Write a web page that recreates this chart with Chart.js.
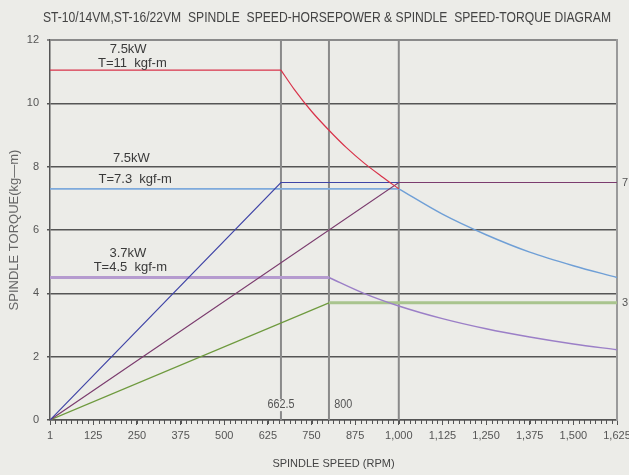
<!DOCTYPE html>
<html>
<head>
<meta charset="utf-8">
<script src="https://cdn.jsdelivr.net/npm/chart.js@4.4.0/dist/chart.umd.min.js"></script>
<style>
  html, body { margin: 0; padding: 0; background: #ecece8; }
  #wrap { width: 629px; height: 475px; position: relative; }
</style>
</head>
<body>
<div id="wrap"><canvas id="chart"></canvas></div>
<script>
(function () {
  "use strict";

  var TITLE = "ST-10/14VM,ST-16/22VM  SPINDLE  SPEED-HORSEPOWER & SPINDLE  SPEED-TORQUE DIAGRAM";

  var SPEED_TICKS = [1, 125, 250, 375, 500, 625, 750, 875, 1000, 1125, 1250, 1375, 1500, 1625];
  var TORQUE_TICKS = [0, 2, 4, 6, 8, 10, 12];
  var RIGHT_TICKS = [3.7, 7.5];
  var MARKER_SPEEDS = [662.5, 800, 1000];
  var MINOR_STEP = 15.625;

  // 7.5kW, T=11 torque curve
  var T11_FLAT_SPEED = [1, 662.5];
  var T11_FLAT_TORQUE = [11.05, 11.05];
  var T11_CURVE_SPEED = [662.5, 700, 750, 800, 850, 900, 950, 1000];
  var T11_CURVE_TORQUE = [11.05, 10.45, 9.75, 9.15, 8.6, 8.12, 7.7, 7.3];

  // 7.5kW, T=7.3 torque curve
  var T73_FLAT_SPEED = [1, 1000];
  var T73_FLAT_TORQUE = [7.3, 7.3];
  var T73_CURVE_SPEED = [1000, 1125, 1250, 1375, 1500, 1625];
  var T73_CURVE_TORQUE = [7.3, 6.5, 5.85, 5.3, 4.87, 4.5];

  // 3.7kW, T=4.5 torque curve
  var T45_FLAT_SPEED = [1, 800];
  var T45_FLAT_TORQUE = [4.5, 4.5];
  var T45_CURVE_SPEED = [800, 900, 1000, 1125, 1250, 1375, 1500, 1625];
  var T45_CURVE_TORQUE = [4.5, 4.0, 3.6, 3.2, 2.88, 2.62, 2.4, 2.22];

  // power lines
  var P75A_SPEED = [1, 662.5, 1000];
  var P75A_POWER = [0, 7.5, 7.5];
  var P75B_SPEED = [1, 1000, 1625];
  var P75B_POWER = [0, 7.5, 7.5];
  var P37_RAMP_SPEED = [1, 800];
  var P37_RAMP_POWER = [0, 3.7];
  var P37_FLAT_SPEED = [800, 1625];
  var P37_FLAT_POWER = [3.7, 3.7];

  var NOTES = [
    { text: "7.5kW", x: 225, y: 11.7 },
    { text: "T=11  kgf-m", x: 237, y: 11.27 },
    { text: "7.5kW", x: 234, y: 8.27 },
    { text: "T=7.3  kgf-m", x: 245, y: 7.61 },
    { text: "3.7kW", x: 224, y: 5.27 },
    { text: "T=4.5  kgf-m", x: 231, y: 4.83 }
  ];

  var SANS = '"Liberation Sans", Arial, sans-serif';

  function pts(xs, ys) {
    return xs.map(function (x, i) { return { x: x, y: ys[i] }; });
  }

  function line(xs, ys, color, width, curved) {
    return {
      data: pts(xs, ys),
      showLine: true,
      borderColor: color,
      borderWidth: width,
      pointRadius: 0,
      pointHoverRadius: 0,
      tension: 0,
      cubicInterpolationMode: curved ? "monotone" : "default",
      fill: false
    };
  }

  var datasets = [
    line(T11_FLAT_SPEED, T11_FLAT_TORQUE, "#d8334a", 1.2),
    line(T11_CURVE_SPEED, T11_CURVE_TORQUE, "#d8334a", 1.2, true),
    line(P75A_SPEED, P75A_POWER, "#3f44a6", 1.2),
    line(P75B_SPEED, P75B_POWER, "#7b3c6e", 1.2),
    line(T73_FLAT_SPEED, T73_FLAT_TORQUE, "#7eaadc", 1.8),
    line(T73_CURVE_SPEED, T73_CURVE_TORQUE, "#6f9fd6", 1.4, true),
    line(T45_FLAT_SPEED, T45_FLAT_TORQUE, "#b59bcf", 3),
    line(T45_CURVE_SPEED, T45_CURVE_TORQUE, "#9b7fc7", 1.4, true),
    line(P37_RAMP_SPEED, P37_RAMP_POWER, "#6e9a3e", 1.2),
    line(P37_FLAT_SPEED, P37_FLAT_POWER, "#a9c48e", 3)
  ];

  MARKER_SPEEDS.forEach(function (s) {
    datasets.push(line([s, s], [0, 12], "#8a8a8a", 2));
  });

  // draws text squeezed horizontally to mimic the narrow face of the original
  function narrowText(ctx, text, x, y, size, scaleX, align) {
    ctx.save();
    ctx.font = size + "px " + SANS;
    ctx.textAlign = align || "center";
    ctx.textBaseline = "middle";
    ctx.translate(x, y);
    ctx.scale(scaleX, 1);
    ctx.fillText(text, 0, 0);
    ctx.restore();
  }

  var extras = {
    id: "extras",
    afterDraw: function (chart) {
      var ctx = chart.ctx;
      var xs = chart.scales.x;
      var ys = chart.scales.y;
      ctx.save();

      // title, fitted to the original width
      ctx.font = "15px " + SANS;
      var tw = ctx.measureText(TITLE).width;
      ctx.fillStyle = "#444";
      narrowText(ctx, TITLE, 327, 18, 15, 568 / tw);

      // minor ticks
      ctx.strokeStyle = "#555";
      ctx.lineWidth = 1;
      for (var v = MINOR_STEP; v < 1625; v += MINOR_STEP) {
        var px = Math.round(xs.getPixelForValue(v)) + 0.5;
        ctx.beginPath();
        ctx.moveTo(px, ys.bottom);
        ctx.lineTo(px, ys.bottom + 4);
        ctx.stroke();
      }

      // notes
      ctx.fillStyle = "#3a3a3a";
      ctx.font = "13px " + SANS;
      ctx.textAlign = "center";
      ctx.textBaseline = "middle";
      NOTES.forEach(function (n) {
        ctx.fillText(n.text, xs.getPixelForValue(n.x), ys.getPixelForValue(n.y));
      });

      // speed marker labels
      var lx = xs.getPixelForValue(662.5);
      var ly = ys.getPixelForValue(0.47);
      ctx.fillStyle = "#ecece8";
      ctx.fillRect(lx - 14, ly - 6, 28, 12);
      ctx.fillStyle = "#555";
      narrowText(ctx, "662.5", lx, ly, 12, 0.9);
      narrowText(ctx, "800", xs.getPixelForValue(815), ly, 12, 0.9, "left");
      ctx.restore();
    }
  };

  new Chart(document.getElementById("chart"), {
    type: "scatter",
    data: { datasets: datasets },
    plugins: [extras],
    options: {
      responsive: true,
      maintainAspectRatio: false,
      animation: false,
      layout: { padding: { top: 40, left: 0, right: 0, bottom: 0 } },
      plugins: {
        legend: { display: false },
        tooltip: { enabled: false },
        title: { display: false }
      },
      scales: {
        x: {
          type: "linear",
          min: 1,
          max: 1625,
          afterBuildTicks: function (scale) {
            scale.ticks = SPEED_TICKS.map(function (v) { return { value: v }; });
          },
          afterFit: function (scale) {
            scale.height = 55;
            scale.paddingLeft = 0;
            scale.paddingRight = 0;
          },
          ticks: {
            autoSkip: false,
            maxRotation: 0,
            padding: 4,
            color: "#555",
            font: { family: SANS, size: 11 },
            callback: function (v) { return Number(v).toLocaleString("en-US"); }
          },
          grid: { drawOnChartArea: false, tickLength: 5, color: "#555" },
          border: { color: "#555", width: 1.5 },
          title: {
            display: true,
            text: "SPINDLE SPEED (RPM)",
            color: "#444",
            font: { family: SANS, size: 11 },
            padding: { top: 5, bottom: 4 }
          }
        },
        y: {
          type: "linear",
          min: 0,
          max: 12,
          afterBuildTicks: function (scale) {
            scale.ticks = TORQUE_TICKS.map(function (v) { return { value: v }; });
          },
          afterFit: function (scale) { scale.width = 50; },
          ticks: {
            padding: 8,
            color: "#555",
            font: { family: SANS, size: 11 }
          },
          grid: {
            tickLength: 3,
            color: function (c) { return c.tick && c.tick.value === 12 ? "#8a8a8a" : "#555"; },
            lineWidth: function (c) { return c.tick && c.tick.value === 12 ? 2 : 1.5; }
          },
          border: { color: "#555", width: 1.5 },
          title: {
            display: true,
            text: "SPINDLE TORQUE(kg\u2014m)",
            color: "#666",
            font: { family: SANS, size: 13 },
            padding: { top: 7, bottom: 0 }
          }
        },
        y2: {
          type: "linear",
          position: "right",
          min: 0,
          max: 12,
          afterBuildTicks: function (scale) {
            scale.ticks = RIGHT_TICKS.map(function (v) { return { value: v }; });
          },
          afterFit: function (scale) { scale.width = 12; },
          ticks: {
            padding: 5,
            color: "#555",
            font: { family: SANS, size: 11 }
          },
          grid: { display: false, drawTicks: false },
          border: { display: true, color: "#9a9a9a", width: 2 }
        }
      }
    }
  });
})();
</script>
</body>
</html>
